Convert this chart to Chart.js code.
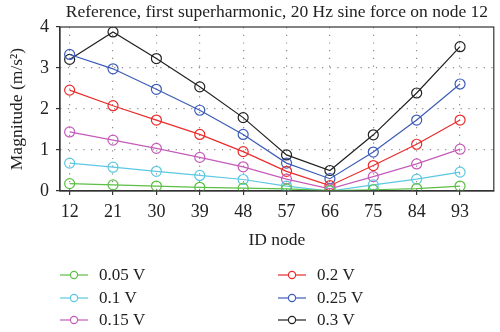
<!DOCTYPE html>
<html>
<head>
<meta charset="utf-8">
<script src="https://cdn.jsdelivr.net/npm/chart.js@4/dist/chart.umd.min.js"></script>
<style>
  html, body { margin: 0; padding: 0; background: #fff; }
  #wrap { position: relative; width: 500px; height: 332px; }
</style>
</head>
<body>
<div id="wrap"><canvas id="c" width="500" height="332"></canvas></div>
<script>
// Node IDs along the beam
const nodes = [12, 21, 30, 39, 48, 57, 66, 75, 84, 93];

// Acceleration magnitude (m/s²) per excitation voltage
const v005 = [0.18, 0.15, 0.12, 0.09, 0.07, 0.05, 0.01, 0.03, 0.06, 0.12];
const v010 = [0.68, 0.58, 0.48, 0.38, 0.28, 0.12, 0.00, 0.15, 0.29, 0.46];
const v015 = [1.44, 1.24, 1.04, 0.82, 0.59, 0.29, 0.05, 0.35, 0.66, 1.02];
const v020 = [2.46, 2.08, 1.73, 1.38, 0.96, 0.48, 0.13, 0.62, 1.14, 1.73];
const v025 = [3.33, 2.98, 2.48, 1.97, 1.38, 0.68, 0.30, 0.95, 1.73, 2.61];
const v030 = [3.21, 3.88, 3.23, 2.54, 1.79, 0.88, 0.50, 1.37, 2.39, 3.52];

const seriesLabels = ['0.05 V', '0.1 V', '0.15 V', '0.2 V', '0.25 V', '0.3 V'];
const seriesValues = [v005, v010, v015, v020, v025, v030];
const seriesColors = ['#5cbf45', '#5cc8e2', '#c45cba', '#ec2c2c', '#3d5cb8', '#222222'];

const yTicks = [0, 1, 2, 3, 4];

const chartTitle = 'Reference, first superharmonic, 20 Hz sine force on node 12';

const serif = '"Liberation Serif", "DejaVu Serif", serif';
const axisInk = '#333333';
const gridInk = '#8c8c8c';

const datasets = seriesValues.map((vals, i) => ({
  label: seriesLabels[i],
  data: nodes.map((n, j) => ({ x: n, y: vals[j] })),
  borderColor: seriesColors[i],
  backgroundColor: 'rgba(0,0,0,0)',
  pointBorderColor: seriesColors[i],
  pointBackgroundColor: 'rgba(0,0,0,0)',
  pointRadius: 5,
  pointBorderWidth: 1.2,
  borderWidth: 1.2,
  tension: 0
}));

// Frame around the plot area, plus the title centred over it
const frame = {
  id: 'frame',
  afterDatasetsDraw(chart) {
    const { ctx, chartArea: a } = chart;
    ctx.save();
    ctx.setLineDash([]);
    ctx.strokeStyle = axisInk;
    ctx.lineWidth = 1.2;
    ctx.strokeRect(a.left, a.top, a.right - a.left, a.bottom - a.top);
    ctx.fillStyle = '#222';
    ctx.font = '17.5px ' + serif;
    ctx.textAlign = 'center';
    ctx.textBaseline = 'middle';
    ctx.fillText(chartTitle, (a.left + a.right) / 2, 12);
    ctx.restore();
  }
};

// Two-column legend under the axis title
const legendGrid = {
  id: 'legendGrid',
  afterDraw(chart) {
    const { ctx } = chart;
    const cols = [{ x0: 60, x1: 88, tx: 99 }, { x0: 278, x1: 306, tx: 317 }];
    const rows = [275, 298, 320];
    ctx.save();
    ctx.setLineDash([]);
    ctx.font = '17px ' + serif;
    ctx.textBaseline = 'middle';
    ctx.textAlign = 'left';
    chart.data.datasets.forEach((ds, i) => {
      const c = cols[Math.floor(i / 3)];
      const y = rows[i % 3];
      ctx.strokeStyle = ds.borderColor;
      ctx.lineWidth = 1.2;
      ctx.beginPath();
      ctx.moveTo(c.x0, y);
      ctx.lineTo(c.x1, y);
      ctx.stroke();
      ctx.fillStyle = '#fff';
      ctx.beginPath();
      ctx.arc((c.x0 + c.x1) / 2, y, 3.6, 0, Math.PI * 2);
      ctx.fill();
      ctx.stroke();
      ctx.fillStyle = '#222';
      ctx.fillText(ds.label, c.tx, y + 1);
    });
    ctx.restore();
  }
};

new Chart(document.getElementById('c'), {
  type: 'line',
  data: { datasets },
  plugins: [frame, legendGrid],
  options: {
    responsive: false,
    animation: false,
    layout: { padding: { left: 0, right: 1, top: 27, bottom: 79 } },
    plugins: {
      legend: { display: false },
      tooltip: { enabled: false },
      title: { display: false }
    },
    scales: {
      x: {
        type: 'linear',
        min: 10,
        max: 100,
        afterBuildTicks(scale) {
          scale.ticks = nodes.map(v => ({ value: v }));
        },
        afterFit(scale) { scale.height = 62; },
        ticks: {
          color: '#222',
          font: { family: serif, size: 18 },
          padding: 6,
          maxRotation: 0,
          autoSkip: false
        },
        grid: {
          color: gridInk,
          lineWidth: 1.2,
          drawTicks: true,
          tickLength: 4,
          tickColor: axisInk,
          tickBorderDash: []
        },
        border: { display: true, color: axisInk, width: 1.2, dash: [1.2, 6.5] },
        title: {
          display: true,
          text: 'ID node',
          color: '#222',
          font: { family: serif, size: 17.5 },
          padding: { top: 0, bottom: 2 }
        }
      },
      y: {
        min: 0,
        max: 4,
        afterBuildTicks(scale) {
          scale.ticks = yTicks.map(v => ({ value: v }));
        },
        afterFit(scale) { scale.width = 60; },
        ticks: {
          color: '#222',
          font: { family: serif, size: 18 },
          padding: 7
        },
        grid: {
          color: (ctx) => (ctx.tick && (ctx.tick.value === 0 || ctx.tick.value === 4)) ? 'rgba(0,0,0,0)' : gridInk,
          lineWidth: 1.2,
          drawTicks: true,
          tickLength: 4,
          tickColor: axisInk,
          tickBorderDash: []
        },
        border: { display: true, color: axisInk, width: 1.2, dash: [1.2, 6.5] },
        title: {
          display: true,
          text: 'Magnitude (m/s²)',
          color: '#222',
          font: { family: serif, size: 17.5 },
          padding: { top: 7, bottom: 0 }
        }
      }
    }
  }
});
</script>
</body>
</html>
